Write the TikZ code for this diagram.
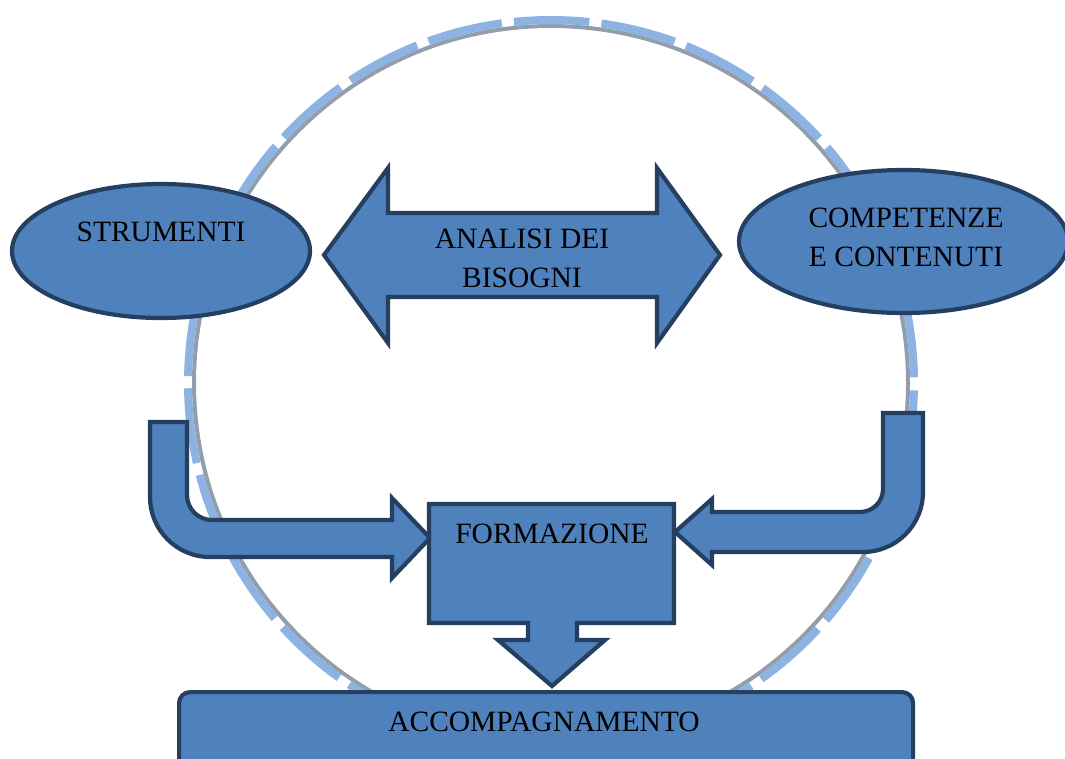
\documentclass[tikz,border=0pt]{standalone}
\usepackage{fontspec}
\setmainfont{Liberation Serif}
\usetikzlibrary{shapes.geometric}
\definecolor{fillblue}{HTML}{4F81BD}
\definecolor{edgeblue}{HTML}{243F60}
\definecolor{ringblue}{HTML}{8DB3E2}
\definecolor{ringgray}{HTML}{939EAD}
\begin{document}
\begin{tikzpicture}[x=1pt,y=-1pt,
  shapestyle/.style={fill=fillblue, draw=edgeblue, line width=4.2pt, line join=miter},
  lbl/.style={font=\fontsize{29.5}{38}\selectfont, anchor=base, inner sep=0pt, text=black},
  oval/.style={shapestyle, ellipse, inner sep=0pt}]
\useasboundingbox (0,0) rectangle (1065,758);
\clip (0,0) rectangle (1065,758);
% ring
\draw[ringgray, line width=4pt] (551,383) circle[radius=357pt];
\draw[ringblue, line width=8pt, dash pattern=on 75.5pt off 12.2pt, dash phase=82pt] (551,383) circle[radius=363pt];
% ellipses
\node[oval, minimum width=298pt, minimum height=134pt] (strum) at (161,251) {};
\node[oval, minimum width=329pt, minimum height=143pt] (comp) at (903.5,241.5) {};
% double arrow
\draw[shapestyle] (324,255) -- (388,168) -- (388,213) -- (657,213) -- (657,168) -- (720,255)
  -- (657,343) -- (657,297) -- (388,297) -- (388,343) -- cycle;
% left bent arrow
\draw[shapestyle] (150,422) -- (187,422) -- (187,495) arc[start angle=180, end angle=270, radius=25pt]
  -- (392,520) -- (392,498) -- (430,538) -- (392,578) -- (392,557) -- (210,557)
  arc[start angle=270, end angle=180, radius=60pt] -- cycle;
% right bent arrow
\draw[shapestyle] (923,413) -- (883,413) -- (883,489) arc[start angle=0, end angle=-90, radius=23pt]
  -- (712,512) -- (712,499) -- (675,532) -- (712,565) -- (712,552) -- (863,552)
  arc[start angle=-90, end angle=0, radius=60pt] -- cycle;
% formazione callout
\draw[shapestyle] (429,504) -- (674,504) -- (674,623) -- (577,623) -- (577,640) -- (605,640)
  -- (552,686) -- (498,640) -- (528,640) -- (528,623) -- (429,623) -- cycle;
% accompagnamento
\node[shapestyle, rounded corners=11pt, minimum width=734pt, minimum height=100pt,
  anchor=north west, inner sep=0pt] (accbox) at (177,690) {};
% texts
\node[lbl] (tstrum) at (161,241) {STRUMENTI};
\node[lbl] (tcomp1) at (906,227) {COMPETENZE};
\node[lbl] (tcomp2) at (906,266) {E CONTENUTI};
\node[lbl] (tanal1) at (522,248) {ANALISI DEI};
\node[lbl] (tanal2) at (522,287) {BISOGNI};
\node[lbl] (tform) at (552,543) {FORMAZIONE};
\node[lbl] (tacc) at (544,731) {ACCOMPAGNAMENTO};
\end{tikzpicture}
\end{document}
